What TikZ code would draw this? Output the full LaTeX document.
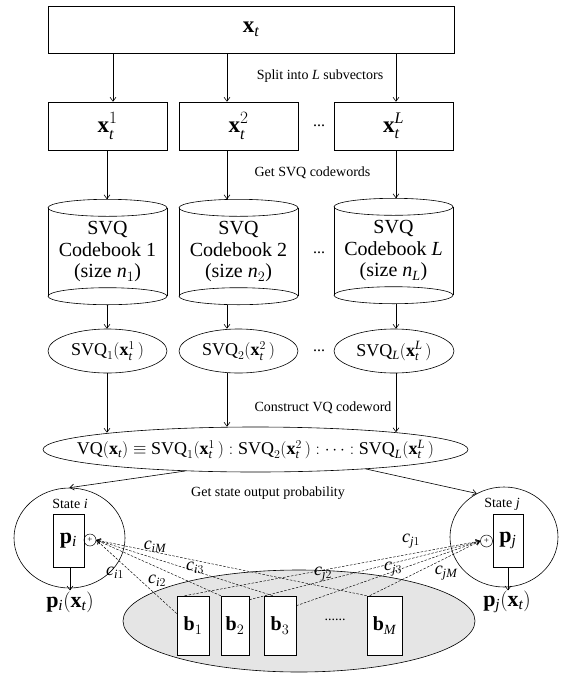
\documentclass[tikz,border=0pt]{standalone}
\usepackage{fontspec}
\setmainfont{Liberation Serif}
\usetikzlibrary{shapes.geometric,arrows.meta,calc}
\newcommand{\bx}{\mathbf{x}}
\newcommand{\itt}{\mathit{t}}
\newcommand{\svq}{\mathrm{SVQ}}
\newcommand{\drawcyl}[1]{%
  \draw[line width=0.6pt] ([yshift=-8.5pt]#1.north) ellipse [x radius=59.5pt, y radius=8.5pt];
  \draw[line width=0.6pt] ([yshift=8.5pt]#1.south) ellipse [x radius=59.5pt, y radius=8.5pt];
  \draw[line width=0.6pt] ([yshift=-8.5pt]#1.north west) -- ([yshift=8.5pt]#1.south west);
  \draw[line width=0.6pt] ([yshift=-8.5pt]#1.north east) -- ([yshift=8.5pt]#1.south east);}
\begin{document}
\begin{tikzpicture}[x=1pt,y=-1pt,
  lbl/.style={font=\fontsize{20}{21.5}\selectfont},
  biglbl/.style={font=\fontsize{23}{25}\selectfont},
  plbl/.style={font=\fontsize{22}{24}\selectfont},
  elbl/.style={font=\fontsize{18}{20}\selectfont},
  small/.style={font=\fontsize{14}{16}\selectfont},
  stlbl/.style={font=\fontsize{14}{16}\selectfont},
  clbl/.style={font=\fontsize{18}{20}\selectfont, inner sep=0},
  dots/.style={font=\fontsize{16}{18}\selectfont},
  arr/.style={-{Straight Barb[length=4pt,width=6pt]}, line width=0.6pt},
  dline/.style={dash pattern=on 2.5pt off 1.5pt, line width=0.45pt, -{Straight Barb[length=4pt,width=5pt]}},
  rbox/.style={draw, rectangle, line width=0.6pt, inner sep=0},
  ell/.style={draw, ellipse, inner sep=0, line width=0.6pt},
  cylbody/.style={rectangle, inner sep=0, minimum width=119pt, minimum height=105pt, align=center, font=\fontsize{20}{21.5}\selectfont}]
\useasboundingbox (0,0) rectangle (563,673);

% top
\node[rbox, minimum width=406pt, minimum height=47pt, biglbl] (xt) at (251,29.5) {$\bx_{\itt}$};
\node[rbox, minimum width=119pt, minimum height=48pt, biglbl] (r1) at (107.5,126) {$\bx_{\itt}^{1}$};
\node[rbox, minimum width=119pt, minimum height=48pt, biglbl] (r2) at (238.5,126) {$\bx_{\itt}^{2}$};
\node[rbox, minimum width=119pt, minimum height=48pt, biglbl] (r3) at (393.5,126) {$\bx_{\itt}^{\mathit{L}}$};
\node[dots] (d1) at (319,126) {...};

% cylinders
\node[cylbody] (cb1) at (107.5,252) {SVQ\\Codebook 1\\(size $\mathit{n}_{1}$)};
\node[cylbody] (cb2) at (238.5,252) {SVQ\\Codebook 2\\(size $\mathit{n}_{2}$)};
\node[cylbody] (cb3) at (393.5,251) {SVQ\\Codebook \textit{L}\\(size $\mathit{n}_{\mathit{L}}$)};
\drawcyl{cb1}
\drawcyl{cb2}
\drawcyl{cb3}
\node[dots] (d2) at (319,253) {...};

% SVQ ellipses
\node[ell, minimum width=119pt, minimum height=44pt] (e1) at (107.5,351) {};
\node[ell, minimum width=119pt, minimum height=44pt] (e2) at (238.5,351) {};
\node[ell, minimum width=120pt, minimum height=44pt] (e3) at (394,351) {};
\node[elbl] (t1) at (e1) {$\svq_{1}(\bx_{\itt}^{1}\,)$};
\node[elbl] (t2) at (e2) {$\svq_{2}(\bx_{\itt}^{2}\,)$};
\node[elbl] (t3) at (e3) {$\svq_{\mathit{L}}(\bx_{\itt}^{\mathit{L}}\,)$};
\node[dots] (d3) at (319,351) {...};

% VQ ellipse
\node[ell, minimum width=425pt, minimum height=45pt] (vq) at (255.5,449.5) {};
\node[font=\fontsize{18}{20}\selectfont] (tvq) at (vq) {$\mathrm{VQ}(\bx_{\itt})\equiv\svq_{1}(\bx_{\itt}^{1}\,):\svq_{2}(\bx_{\itt}^{2}\,):\cdots:\svq_{\mathit{L}}(\bx_{\itt}^{\mathit{L}}\,)$};

% step labels
\node[small] (ls) at (320,76) {Split into \textit{L} subvectors};
\node[small] (lg) at (312.5,173) {Get SVQ codewords};
\node[small] (lc) at (323,408) {Construct VQ codeword};
\node[small] (lp) at (268,493) {Get state output probability};

% column coordinates
\coordinate (ka) at (113,0);
\coordinate (kb) at (227,0);
\coordinate (kc) at (396,0);
\coordinate (kd) at (107,0);

\draw[arr] (xt.south -| ka) -- (r1.north -| ka);
\draw[arr] (xt.south -| kb) -- (r2.north -| kb);
\draw[arr] (xt.south -| kc) -- (r3.north -| kc);
\draw[arr] (r1.south -| kd) -- (cb1.north -| kd);
\draw[arr] (r2.south -| kb) -- (cb2.north -| kb);
\draw[arr] (r3.south -| kc) -- (cb3.north -| kc);
\draw[arr] (cb1.south -| kd) -- (e1.north -| kd);
\draw[arr] (cb2.south -| kb) -- (e2.north -| kb);
\draw[arr] (cb3.south -| kc) -- (e3.north -| kc);
\draw[arr] (e1.south -| kd) -- ($(vq.north -| kd)+(0,6)$);
\draw[arr] (e2.south -| kb) -- (vq.north -| kb);
\draw[arr] (e3.south -| kc) -- ($(vq.north -| kc)+(0,5.5)$);

% pool of Gaussians
\node[ell, fill=gray!20, minimum width=352pt, minimum height=102pt] (pool) at (299,621) {};
\node[rbox, fill=white, minimum width=32pt, minimum height=59pt, lbl] (b1) at (193,625.5) {$\mathbf{b}_{1}$};
\node[rbox, fill=white, minimum width=28pt, minimum height=59pt, lbl] (b2) at (235,625.5) {$\mathbf{b}_{2}$};
\node[rbox, fill=white, minimum width=32pt, minimum height=59pt, lbl] (b3) at (280,625.5) {$\mathbf{b}_{3}$};
\node[rbox, fill=white, minimum width=35pt, minimum height=59pt, lbl] (bM) at (384.5,625.5) {$\mathbf{b}_{\mathit{M}}$};
\node[small] (d4) at (335,620) {......};

% states
\node[ell, minimum width=111pt, minimum height=100pt] (si) at (69.5,538) {};
\node[ell, minimum width=108pt, minimum height=100pt] (sj) at (504,537) {};
\node[stlbl] (sil) at (70,504) {State \textit{i}};
\node[stlbl] (sjl) at (502,504) {State \textit{j}};
\node[rbox, minimum width=31pt, minimum height=53pt, plbl] (pi) at (68.5,540.5) {$\mathbf{p}_{\mathit{i}}$};
\node[rbox, minimum width=30pt, minimum height=53pt, plbl] (pj) at (508,540.5) {$\mathbf{p}_{\mathit{j}}$};
\node[draw, circle, line width=0.5pt, minimum size=12pt, inner sep=0, font=\fontsize{9}{9}\selectfont] (ci) at (90,540) {+};
\node[draw, circle, line width=0.5pt, minimum size=12pt, inner sep=0, font=\fontsize{9}{9}\selectfont] (cj) at (486.5,541) {+};
\node[plbl, inner sep=1pt] (pio) at (70,602) {$\mathbf{p}_{\mathit{i}}(\bx_{\itt})$};
\node[plbl, inner sep=1pt] (pjo) at (507,602) {$\mathbf{p}_{\mathit{j}}(\bx_{\itt})$};
\draw[arr] (pi.south -| pio.north) -- (pio.north);
\draw[arr] (pj.south) -- (pj.south |- pio.north);

\draw[arr] (vq.197) -- (si.north);
\draw[arr] (vq.350) -- (sj.122);

% weights
\draw[dline] ([yshift=12pt]b1.west) -- (ci.east);
\draw[dline] (b2.north west) -- (ci.east);
\draw[dline] ([xshift=9pt]b3.north west) -- (ci.east);
\draw[dline] (bM.north west) -- (ci.east);
\draw[dline] ([xshift=8pt]b1.north west) -- (cj.west);
\draw[dline] ([yshift=-4pt]b2.north east) -- (cj.west);
\draw[dline] ([yshift=-10pt]b3.north east) -- (cj.west);
\draw[dline] ([xshift=3pt]bM.north west) -- (cj.west);

\node[clbl] (wiM) at (155,547) {$\mathit{c}_{\mathit{iM}}$};
\node[clbl] (wi3) at (195,568) {$\mathit{c}_{\mathit{i}3}$};
\node[clbl] (wi1) at (115,573) {$\mathit{c}_{\mathit{i}1}$};
\node[clbl] (wi2) at (157,581) {$\mathit{c}_{\mathit{i}2}$};
\node[clbl] (wj1) at (411,541) {$\mathit{c}_{\mathit{j}1}$};
\node[clbl] (wj2) at (323,574) {$\mathit{c}_{\mathit{j}2}$};
\node[clbl] (wj3) at (393,569) {$\mathit{c}_{\mathit{j}3}$};
\node[clbl] (wjM) at (446,573) {$\mathit{c}_{\mathit{jM}}$};
\end{tikzpicture}
\end{document}
